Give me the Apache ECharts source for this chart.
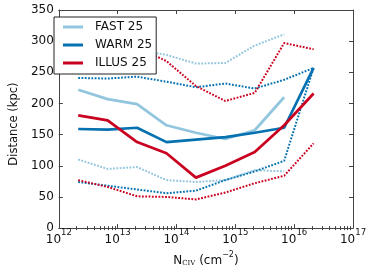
<!DOCTYPE html>
<html>
<head>
<meta charset="utf-8">
<script src="https://cdn.jsdelivr.net/npm/echarts@6/dist/echarts.min.js"></script>
<style>html,body{margin:0;padding:0;background:#fff}#c{width:374px;height:272px}</style>
</head>
<body>
<div id="c"></div>
<script>
// log10 of N_CIV bin centres
const logN = [12.33, 12.83, 13.33, 13.83, 14.33, 14.83, 15.33, 15.83, 16.33];
const fastMed  = [222, 207, 199, 165, 153, 143, 157, 210, null];
const fastUp   = [300, 292, 286, 278, 264, 265, 293, 311, null];
const fastLo   = [110, 95, 98, 77, 74, 77, 93, 91, null];
const warmMed  = [159, 158, 161, 138, 142, 146, 153, 161, 257];
const warmUp   = [241, 240, 243, 235, 226, 232, 224, 238, 257];
const warmLo   = [74, 68, 62, 56, 60, 77, 91, 108, 257];
const illusMed = [181, 173, 138, 120, 81, 100, 122, 165, 216];
const illusUp  = [300, 295, 290, 268, 228, 204, 217, 297, 287];
const illusLo  = [77, 66, 51, 50, 46, 57, 72, 84, 136];
const yTicks = [0, 50, 100, 150, 200, 250, 300, 350];

const C_FAST = '#92c5de', C_WARM = '#0571b0', C_ILLUS = '#ca0020';
const FONT = 'DejaVu Sans';
const AX = '#444';

const minorLog = [];
for (let d = 12; d < 17; d++) for (let m = 2; m <= 9; m++) minorLog.push(d + Math.log10(m));

function pts(arr) {
  return logN.map((l, i) => arr[i] == null ? null : [Math.pow(10, l), arr[i]]).filter(p => p);
}
function line(name, arr, color, dotted) {
  return {
    name: name, type: 'line', data: pts(arr), xAxisIndex: 0, yAxisIndex: 0,
    symbol: 'none', silent: true,
    lineStyle: dotted ? {color: color, width: 2, type: [1.8, 1.5]} : {color: color, width: 2.7},
    itemStyle: {color: color},
    z: dotted ? 2 : 3
  };
}

const chart = echarts.init(document.getElementById('c'), null, {renderer: 'canvas'});
chart.setOption({
  animation: false,
  backgroundColor: '#fff',
  grid: {left: 49, right: 21, top: 10, bottom: 40},
  legend: {
    data: ['FAST 25', 'WARM 25', 'ILLUS 25'],
    orient: 'vertical', left: 54, top: 17,
    padding: [3, 4, 4, 9],
    itemGap: 4, itemWidth: 20, itemHeight: 3,
    icon: 'rect',
    backgroundColor: '#fff', borderColor: '#222', borderWidth: 1, borderRadius: 0,
    textStyle: {fontFamily: FONT, fontSize: 12, color: '#111', lineHeight: 14, padding: [0, 0, 0, 7]},
    selectedMode: false
  },
  xAxis: [
    {
      type: 'log', logBase: 10, min: 1e12, max: 1e17, position: 'bottom', gridIndex: 0,
      name: '{a|N}{s|CIV}{a| (cm}{p|−2}{a|)}', nameLocation: 'middle', nameGap: 18,
      nameTextStyle: {
        rich: {
          a: {fontFamily: FONT, fontSize: 12, color: '#111', lineHeight: 16, verticalAlign: 'bottom'},
          s: {fontFamily: 'DejaVu Serif', fontSize: 7, color: '#111', lineHeight: 16, verticalAlign: 'bottom'},
          p: {fontFamily: FONT, fontSize: 8, color: '#111', lineHeight: 10, verticalAlign: 'top'}
        }
      },
      axisLine: {show: true, onZero: false, lineStyle: {color: AX, width: 1}},
      axisTick: {show: true, inside: true, length: 4, lineStyle: {color: AX}},
      splitLine: {show: false}, minorTick: {show: false},
      axisLabel: {
        margin: 0,
        formatter: v => '{a|10}{b|' + Math.round(Math.log10(v)) + '}',
        rich: {
          a: {fontFamily: FONT, fontSize: 12, color: '#111', lineHeight: 18, verticalAlign: 'bottom'},
          b: {fontFamily: FONT, fontSize: 8.5, color: '#111', lineHeight: 10, verticalAlign: 'top'}
        }
      }
    },
    {
      type: 'value', min: 12, max: 17, position: 'bottom', gridIndex: 0,
      axisLine: {show: false}, splitLine: {show: false}, axisLabel: {show: false},
      axisTick: {show: true, inside: true, length: 2, customValues: minorLog, lineStyle: {color: AX}}
    },
    {
      type: 'log', logBase: 10, min: 1e12, max: 1e17, position: 'top', gridIndex: 0,
      axisLine: {show: true, onZero: false, lineStyle: {color: AX, width: 1}},
      axisTick: {show: true, inside: true, length: 4, lineStyle: {color: AX}},
      splitLine: {show: false}, axisLabel: {show: false}
    },
    {
      type: 'value', min: 12, max: 17, position: 'top', gridIndex: 0,
      axisLine: {show: false}, splitLine: {show: false}, axisLabel: {show: false},
      axisTick: {show: true, inside: true, length: 2, customValues: minorLog, lineStyle: {color: AX}}
    }
  ],
  yAxis: [
    {
      type: 'value', min: 0, max: 350, interval: 50, position: 'left', gridIndex: 0,
      name: 'Distance (kpc)', nameLocation: 'middle', nameGap: 32,
      nameTextStyle: {fontFamily: FONT, fontSize: 11.5, color: '#111', padding: [0, 10, 0, 0]},
      axisLine: {show: true, lineStyle: {color: AX, width: 1}},
      axisTick: {show: true, inside: true, length: 4, lineStyle: {color: AX}},
      splitLine: {show: false},
      axisLabel: {margin: 5, fontFamily: FONT, fontSize: 12, color: '#111',
        formatter: v => yTicks.indexOf(v) >= 0 ? String(v) : ''}
    },
    {
      type: 'value', min: 0, max: 350, interval: 50, position: 'right', gridIndex: 0,
      axisLine: {show: true, lineStyle: {color: AX, width: 1}},
      axisTick: {show: true, inside: true, length: 4, lineStyle: {color: AX}},
      splitLine: {show: false}, axisLabel: {show: false}
    }
  ],
  series: [
    line('FAST 25', fastMed, C_FAST, false),
    line('FAST up', fastUp, C_FAST, true),
    line('FAST lo', fastLo, C_FAST, true),
    line('WARM 25', warmMed, C_WARM, false),
    line('WARM up', warmUp, C_WARM, true),
    line('WARM lo', warmLo, C_WARM, true),
    line('ILLUS 25', illusMed, C_ILLUS, false),
    line('ILLUS up', illusUp, C_ILLUS, true),
    line('ILLUS lo', illusLo, C_ILLUS, true)
  ]
});
</script>
</body>
</html>
